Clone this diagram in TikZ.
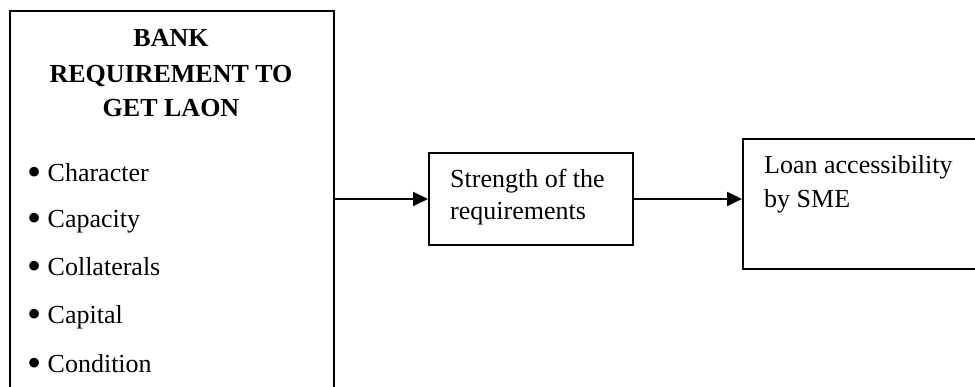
\documentclass[tikz,border=0pt]{standalone}
\usepackage{fontspec}
\usepackage{graphicx}
\setmainfont{Liberation Serif}
\usetikzlibrary{arrows.meta}
\tikzset{
  boxnode/.style={draw, line width=2pt, rectangle, inner sep=0pt, anchor=north west},
  txt/.style={anchor=base west, inner sep=0pt, font=\fontsize{26}{30}\selectfont},
  ttl/.style={anchor=base, inner sep=0pt, font=\fontsize{26}{30}\selectfont\bfseries},
  arr/.style={line width=2pt, -{Triangle[length=15pt,width=14pt]}}
}
\newcommand{\bul}[1]{\makebox[20pt][l]{\raisebox{-3.5pt}{\scalebox{1.55}{•}}}#1}
\begin{document}
\begin{tikzpicture}[x=1pt,y=-1pt]
\useasboundingbox (0,0) rectangle (975,387);
\clip (0,0) rectangle (975,387);
\node[boxnode, minimum width=324pt, minimum height=420pt] (b1) at (9,10) {};
\node[boxnode, minimum width=204pt, minimum height=92pt] (b2) at (428,152) {};
\node[boxnode, minimum width=260pt, minimum height=130pt] (b3) at (742,138) {};
\node[ttl] (t1) at (171,47) {BANK};
\node[ttl] (t2) at (171,83) {REQUIREMENT TO};
\node[ttl] (t3) at (171,117) {GET LAON};
\node[txt] (l1) at (27.5,182) {\bul{Character}};
\node[txt] (l2) at (27.5,228) {\bul{Capacity}};
\node[txt] (l3) at (27.5,276) {\bul{Collaterals}};
\node[txt] (l4) at (27.5,324) {\bul{Capital}};
\node[txt] (l5) at (27.5,373) {\bul{Condition}};
\node[txt] (s1) at (450,188) {Strength of the};
\node[txt] (s2) at (450,220) {requirements};
\node[txt] (a1) at (764,174) {Loan accessibility};
\node[txt] (a2) at (764,208) {by SME};
\draw[arr] (b2.west -| b1.east) -- (b2.west);
\draw[arr] (b2.east) -- (b2.east -| b3.west);
\end{tikzpicture}
\end{document}
